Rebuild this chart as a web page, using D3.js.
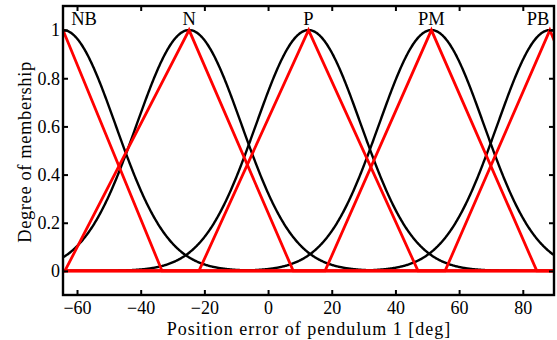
<!DOCTYPE html>
<html lang="en">
<head>
<meta charset="UTF-8">
<title>Membership functions</title>
<script src="https://d3js.org/d3.v7.min.js"></script>
<style>
  body { margin: 0; background: #fff; }
  text { font-family: 'Liberation Serif', 'Times New Roman', serif; fill: #000; }
</style>
</head>
<body>
<script>
// fuzzy sets
const setNames  = ["NB", "N", "P", "PM", "PB"];
const centers   = [-64.4, -24.8, 12.7, 51.3, 88.5];
const sigmas    = [16.5, 16.5, 16.5, 16.5, 16.5];
const triLeft   = [-95, -63.8, -21.7, 17.9, 55.6];
const triRight  = [-33.3, 7.9, 47.1, 84.4, 120];
const labelX    = [-57.8, -24.8, 12.7, 51.3, 84.8];
const xTicks    = [-60, -40, -20, 0, 20, 40, 60, 80];
const yTicks    = [0, 0.2, 0.4, 0.6, 0.8, 1];

const W = 557, H = 340;
const m = {left: 63, right: 3, top: 6, bottom: 45};

const svg = d3.select("body").append("svg")
    .attr("width", W).attr("height", H);

const x = d3.scaleLinear().domain([-64.4, 89.8]).range([m.left, W - m.right]);
const y = d3.scaleLinear().domain([-0.1, 1.1]).range([H - m.bottom, m.top]);

const xs = d3.range(-64.4, 89.81, 0.2);
const line = d3.line().x(d => x(d[0])).y(d => y(d[1]));

const plot = svg.append("g");
plot.append("clipPath").attr("id", "clip")
  .append("rect")
    .attr("x", m.left).attr("y", m.top)
    .attr("width", W - m.left - m.right).attr("height", H - m.top - m.bottom);

const g = plot.append("g").attr("clip-path", "url(#clip)");

// gaussian curves
centers.forEach((c, i) => {
  const pts = xs.map(v => [v, Math.exp(-((v - c) ** 2) / (2 * sigmas[i] ** 2))]);
  g.append("path").attr("d", line(pts))
    .attr("fill", "none").attr("stroke", "#000").attr("stroke-width", 2.4);
});

// triangles
centers.forEach((c, i) => {
  const pts = [[-70, 0], [triLeft[i], 0], [c, 1], [triRight[i], 0], [130, 0]];
  g.append("path").attr("d", line(pts))
    .attr("fill", "none").attr("stroke", "#f00").attr("stroke-width", 2.8)
    .attr("stroke-linejoin", "miter");
});

// frame + inward ticks
const axBottom = d3.axisBottom(x).tickValues(xTicks).tickSizeInner(-5).tickSizeOuter(0).tickPadding(6);
const axTop = d3.axisTop(x).tickValues(xTicks).tickSizeInner(-5).tickSizeOuter(0).tickFormat("");
const axLeft = d3.axisLeft(y).tickValues(yTicks).tickSizeInner(-5).tickSizeOuter(0).tickPadding(3)
    .tickFormat(d => d3.format("")(d));
const axRight = d3.axisRight(y).tickValues(yTicks).tickSizeInner(-5).tickSizeOuter(0).tickFormat("");

function styleAxis(sel) {
  sel.select(".domain").remove();
  sel.selectAll("line").attr("stroke", "#000").attr("stroke-width", 2);
  sel.selectAll("text").attr("font-size", 18).attr("fill", "#000")
    .attr("font-family", "'Liberation Serif', serif");
}
svg.append("g").attr("transform", `translate(0,${H - m.bottom})`).call(axBottom).call(styleAxis);
svg.append("g").attr("transform", `translate(0,${m.top})`).call(axTop).call(styleAxis);
svg.append("g").attr("transform", `translate(${m.left},0)`).call(axLeft).call(styleAxis);
svg.append("g").attr("transform", `translate(${W - m.right},0)`).call(axRight).call(styleAxis);

svg.append("rect")
    .attr("x", m.left).attr("y", m.top)
    .attr("width", W - m.left - m.right).attr("height", H - m.top - m.bottom)
    .attr("fill", "none").attr("stroke", "#000").attr("stroke-width", 2.4);

// set names
svg.selectAll(".setname").data(setNames).join("text")
    .attr("class", "setname")
    .attr("x", (d, i) => x(labelX[i]))
    .attr("y", 25)
    .attr("text-anchor", "middle")
    .attr("font-size", 18.5)
    .text(d => d);

// axis titles
svg.append("text")
    .attr("x", 309).attr("y", 335)
    .attr("text-anchor", "middle")
    .attr("font-size", 18)
    .attr("letter-spacing", 1)
    .text("Position error of pendulum 1 [deg]");

svg.append("text")
    .attr("transform", "translate(31,152) rotate(-90)")
    .attr("text-anchor", "middle")
    .attr("font-size", 18.5)
    .attr("letter-spacing", 0.6)
    .text("Degree of membership");
</script>
</body>
</html>
